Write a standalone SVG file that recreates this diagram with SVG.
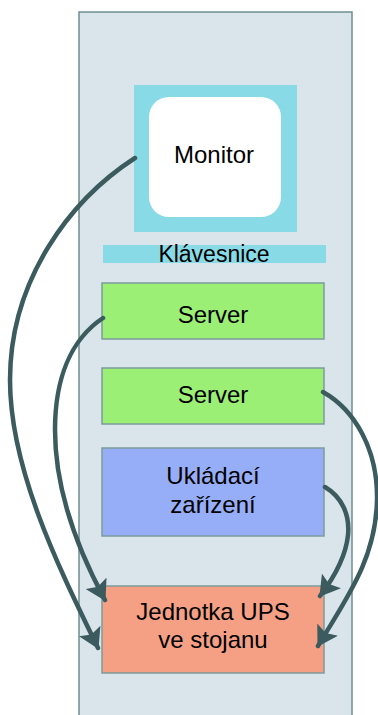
<svg xmlns="http://www.w3.org/2000/svg" width="378" height="715" viewBox="0 0 378 715">
<style>
.lbl{font-family:"Liberation Sans",Arial,sans-serif;font-size:24px;fill:#000;text-anchor:middle}
.box{stroke:#7d9a9c;stroke-width:1.5}
.conn{fill:none;stroke:#3b5b5e;stroke-width:4.5;stroke-linecap:round}
</style>
<defs>
<marker id="ah" markerUnits="userSpaceOnUse" viewBox="0 0 20 24" markerWidth="20" markerHeight="24" refX="19" refY="12" orient="auto">
<path d="M0,0 L20,12 L0,24 L4,12 z" fill="#3b5b5e"/>
</marker>
</defs>
<g id="rack">
<rect x="79" y="12" width="273" height="710" fill="#d9e5eb" stroke="#6f8e90" stroke-width="1.5"/>
</g>
<g id="monitor">
<rect x="134" y="85" width="163" height="147" fill="#88dbe6"/>
<rect x="149" y="97" width="132" height="120" rx="20" fill="#fff"/>
<text class="lbl" x="214" y="163">Monitor</text>
</g>
<g id="klavesnice">
<rect x="103" y="245" width="223" height="18" fill="#88dbe6"/>
<text class="lbl" x="214" y="262" style="font-size:23px">Klávesnice</text>
</g>
<g id="server1">
<rect class="box" x="102" y="283" width="222" height="56" fill="#9bef74"/>
<text class="lbl" x="213" y="323">Server</text>
</g>
<g id="server2">
<rect class="box" x="102" y="368" width="222" height="56" fill="#9bef74"/>
<text class="lbl" x="213" y="403">Server</text>
</g>
<g id="storage">
<rect class="box" x="102" y="448" width="222" height="88" fill="#96aef7"/>
<text class="lbl" x="213" y="484">Ukládací</text>
<text class="lbl" x="213" y="513">zařízení</text>
</g>
<g id="ups">
<rect class="box" x="102" y="586" width="222" height="87" fill="#f5a084"/>
<text class="lbl" x="213" y="620">Jednotka UPS</text>
<text class="lbl" x="213" y="648">ve stojanu</text>
</g>
<g id="connectors">
<path class="conn" marker-end="url(#ah)" d="M135,158 C70,200 10,280 10,380 C10,470 60,570 98,648"/>
<path class="conn" marker-end="url(#ah)" d="M103,318 C70,340 55,380 55,430 C55,490 78,550 105,600"/>
<path class="conn" marker-end="url(#ah)" d="M323,392 C355,410 378,450 377,500 C376,560 345,600 318,646"/>
<path class="conn" marker-end="url(#ah)" d="M325,487 C342,497 350,515 348,535 C346,555 336,575 320,596"/>
</g>
</svg>
